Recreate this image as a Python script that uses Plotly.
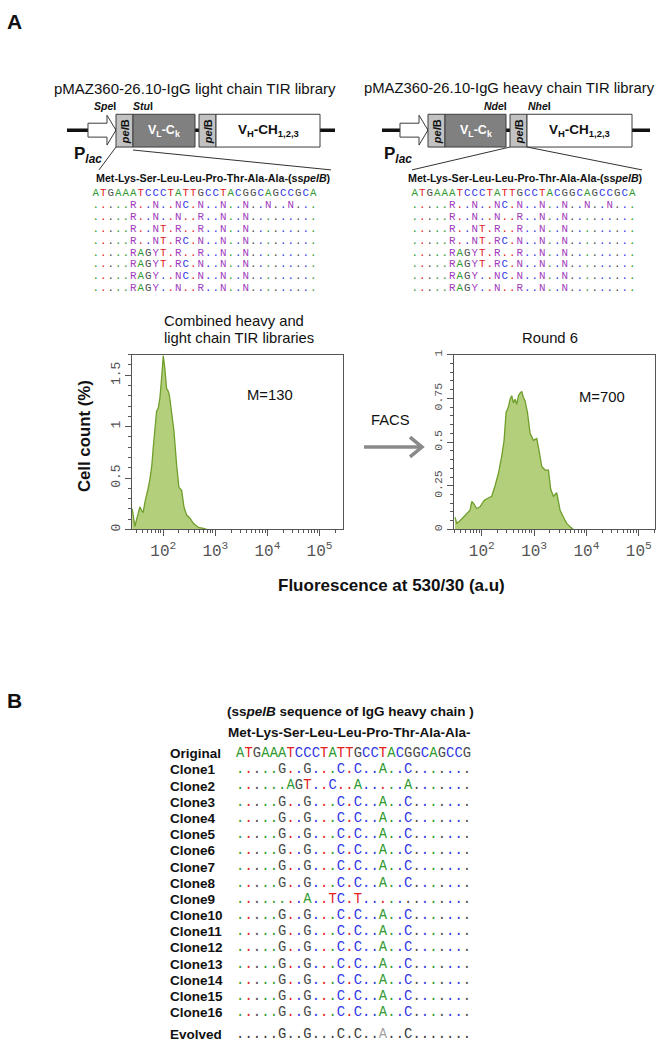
import plotly.graph_objects as go

W, H = 666, 1050

# ---------------- data ----------------
light_lib_fluor = [25.35, 26.92, 28.51, 31.62, 35.56, 38.90, 41.21, 44.67, 47.75, 51.29, 55.46, 60.26,
                   64.27, 69.18, 74.47, 80.17, 86.30, 92.90, 100.0, 107.6, 115.9, 123.0, 130.3, 138.0,
                   144.5, 160.3, 180.3, 200.0, 225.4, 249.5, 281.2, 325.8, 377.6, 471.0, 587.5, 680.8]
light_lib_count = [0.20, 0.08, 0.03, 0.12, 0.22, 0.18, 0.17, 0.27, 0.35, 0.40, 0.49, 0.62,
                   0.80, 0.95, 1.15, 1.18, 1.28, 1.47, 1.69, 1.56, 1.37, 1.35, 1.31, 1.22,
                   1.15, 0.96, 0.63, 0.41, 0.38, 0.22, 0.14, 0.11, 0.06, 0.02, 0.01, 0.0]

round6_fluor = [30.9, 33.3, 38.5, 44.7, 51.7, 59.8, 64.4, 69.3, 80.2, 92.9, 107.6, 115.8, 134.0,
                155.2, 179.7, 208.1, 241.0, 267.1, 291.8, 323.3, 347.7, 374.0, 402.3, 433.2, 466.6,
                502.3, 539.6, 580.8, 625.2, 673.0, 746.4, 839.5, 970.5, 1124.6, 1264.7, 1400.0,
                1621.8, 1879.3, 2079.7, 2338.8, 2710.0, 3140.0, 3638.0, 4207.0, 4875.0, 5649.0]
round6_count = [0.07, 0.035, 0.05, 0.07, 0.09, 0.11, 0.16, 0.15, 0.12, 0.13, 0.16, 0.17, 0.18,
                0.19, 0.25, 0.32, 0.42, 0.51, 0.67, 0.70, 0.745, 0.765, 0.725, 0.745, 0.716,
                0.765, 0.78, 0.79, 0.755, 0.735, 0.67, 0.55, 0.51, 0.52, 0.44, 0.36,
                0.34, 0.34, 0.23, 0.19, 0.21, 0.11, 0.07, 0.035, 0.015, 0.0]

x_tick_vals = [100, 1000, 10000, 100000]
x_tick_text = ["10<sup>2</sup>", "10<sup>3</sup>", "10<sup>4</sup>", "10<sup>5</sup>"]
x_minor_vals = [m * 10 ** d for d in range(1, 6) for m in range(2, 10)]
left_y_ticks = [0, 0.5, 1, 1.5]
left_y_text = ["0", "0.5", "1", "1.5"]
right_y_ticks = [0, 0.25, 0.5, 0.75, 1]
right_y_text = ["0", "0.25", "0.5", "0.75", "1"]

tir_header = "ATGAAATCCCTATTGCCTACGGCAGCCGCA"
tir_rows = [
    ".....R..N..NC.N..N..N..N..N...",
    ".....R..N..N..R..N..N.........",
    ".....R..NT.R..R..N..N.........",
    ".....R..NT.RC.N..N..N.........",
    ".....RAGYT.R..R..N..N.........",
    ".....RAGYT.RC.N..N..N.........",
    ".....RAGY..NC.N..N..N.........",
    ".....RAGY..N..R..N..N.........",
]

b_header = "ATGAAATCCCTATTGCCTACGGCAGCCG"
clone_names = ["Clone1", "Clone2", "Clone3", "Clone4", "Clone5", "Clone6", "Clone7", "Clone8",
               "Clone9", "Clone10", "Clone11", "Clone12", "Clone13", "Clone14", "Clone15", "Clone16"]
clone_seqs = [
    ".....G..G...C.C..A..C.......",
    "......AGT..C..A.....A.......",
    ".....G..G...C.C..A..C.......",
    ".....G..G...C.C..A..C.......",
    ".....G..G...C.C..A..C.......",
    ".....G..G...C.C..A..C.......",
    ".....G..G...C.C..A..C.......",
    ".....G..G...C.C..A..C.......",
    "........A..TC.T.............",
    ".....G..G...C.C..A..C.......",
    ".....G..G...C.C..A..C.......",
    ".....G..G...C.C..A..C.......",
    ".....G..G...C.C..A..C.......",
    ".....G..G...C.C..A..C.......",
    ".....G..G...C.C..A..C.......",
    ".....G..G...C.C..A..C.......",
]
evolved_seq = ".....G..G...C.C..A..C......."

# ---------------- styling helpers ----------------
SANS = "Liberation Sans, Arial, sans-serif"
MONO = "Liberation Mono, Courier New, monospace"
BASE_COL = {"A": "#2f9a2f", "T": "#e3201b", "G": "#4a4a4a", "C": "#2f36e6"}
AMBIG_COL = "#a03cbd"
GREEN_FILL = "#b3cf7c"
GREEN_LINE = "#6f9e2a"


def fx(x):
    return x / W


def fy(y):
    return 1 - y / H


annotations = []
shapes = []


def text(x, y, s, size=13, color="#111111", family=SANS, xanchor="center",
         yanchor="middle", angle=0, align="center", bold=False):
    font = dict(size=size, color=color, family=family)
    if bold:
        font["weight"] = "bold"
    annotations.append(dict(x=fx(x), y=fy(y), xref="paper", yref="paper", text=s,
                            showarrow=False, xanchor=xanchor, yanchor=yanchor,
                            textangle=angle, align=align, font=font))


def rect(x0, y0, x1, y1, fill, line="#3c3c3c", lw=1):
    shapes.append(dict(type="rect", xref="paper", yref="paper", x0=fx(x0), x1=fx(x1),
                       y0=fy(y1), y1=fy(y0), fillcolor=fill, line=dict(color=line, width=lw)))


def seg(x0, y0, x1, y1, color="#222222", w=1):
    shapes.append(dict(type="line", xref="paper", yref="paper", x0=fx(x0), x1=fx(x1),
                       y0=fy(y0), y1=fy(y1), line=dict(color=color, width=w)))


def poly(pts, fill=None, line="#3c3c3c", w=1, closed=True):
    p = "M " + " L ".join("%.5f,%.5f" % (fx(a), fy(b)) for a, b in pts) + (" Z" if closed else "")
    d = dict(type="path", xref="paper", yref="paper", path=p, line=dict(color=line, width=w))
    if fill:
        d["fillcolor"] = fill
    shapes.append(d)


def char_color(c, ref_base, mono=False):
    if mono:
        return "#a0a0a0" if c == "A" else "#3a3a3a"
    if c == ".":
        return BASE_COL[ref_base]
    if c in BASE_COL:
        return BASE_COL[c]
    return AMBIG_COL


def seq_trace(rows, header, row_pos, xa, ya, size, mono_rows=()):
    xs, ys, ts, cs = [], [], [], []
    for r, row in enumerate(rows):
        for i, c in enumerate(row):
            xs.append(i)
            ys.append(row_pos[r])
            ts.append(c)
            cs.append(char_color(c, header[i], r in mono_rows))
    return go.Scatter(x=xs, y=ys, text=ts, mode="text", textposition="middle center",
                      textfont=dict(family=MONO, size=size, color=cs),
                      xaxis=xa, yaxis=ya, showlegend=False, hoverinfo="skip", cliponaxis=False)


# ---------------- panel A: plasmid diagrams ----------------
text(5, 17, "A", size=21, xanchor="left", bold=True)

BOX_T, BOX_B, LINE_Y = 110, 143, 126


def plasmid(lx0, lx1, ax0, p1, vl, p2, vh):
    seg(lx0, LINE_Y, lx1, LINE_Y, "#111111", 3.5)
    poly([(ax0, 119), (p1[0] - 9, 119), (p1[0] - 9, 111), (p1[0], LINE_Y),
          (p1[0] - 9, 141), (p1[0] - 9, 133), (ax0, 133)], fill="white", line="#3c3c3c", w=1)
    rect(p1[0], BOX_T, p1[1], BOX_B, "#c2c2c2")
    rect(vl[0], BOX_T, vl[1], BOX_B, "#808080")
    rect(p2[0], BOX_T, p2[1], BOX_B, "#c2c2c2")
    rect(vh[0], BOX_T, vh[1], BOX_B, "#ffffff")
    for p in (p1, p2):
        text((p[0] + p[1]) / 2, (BOX_T + BOX_B) / 2 + 1, "<i>pel</i>B", size=11, angle=-90,
             bold=True)
    text((vl[0] + vl[1]) / 2, (BOX_T + BOX_B) / 2, "V<sub>L</sub>-C<sub>k</sub>",
         size=12.5, color="white", bold=True)
    text((vh[0] + vh[1]) / 2, (BOX_T + BOX_B) / 2, "V<sub>H</sub>-CH<sub>1,2,3</sub>",
         size=13.5, bold=True)


plasmid(67, 335, 88, (116, 133), (133, 195), (199, 216), (216, 320))
plasmid(382, 650, 400, (428, 445), (445, 506), (510, 527), (527, 632))

text(195, 84, "pMAZ360-26.10-IgG light chain TIR library", size=15)
text(510, 84, "pMAZ360-26.10-IgG heavy chain TIR library", size=14.8)

text(105, 102, "<i>Spe</i>I", size=10.5, bold=True)
text(143, 102, "<i>Stu</i>I", size=10.5, bold=True)
text(495, 102, "<i>Nde</i>I", size=10.5, bold=True)
text(539, 102, "<i>Nhe</i>I", size=10.5, bold=True)

text(72, 151, "P<sub><i>lac</i></sub>", size=17, xanchor="left", bold=True)
text(382, 151, "P<sub><i>lac</i></sub>", size=17, xanchor="left", bold=True)

# expansion lines
seg(116, BOX_B, 99, 166, "#333333", 1)
seg(133, BOX_B + 3, 331, 166, "#333333", 1)
seg(510, BOX_B, 412, 166, "#333333", 1)
seg(527, BOX_B, 642, 166, "#333333", 1)

text(214, 174, "Met-Lys-Ser-Leu-Leu-Pro-Thr-Ala-Ala-(ss<i>pelB</i>)", size=10.7, bold=True)
text(525, 174, "Met-Lys-Ser-Leu-Leu-Pro-Thr-Ala-Ala-(ss<i>pelB</i>)", size=10.7, bold=True)

# ---------------- panel A: histograms ----------------
text(162, 318, "Combined heavy and", size=14.8, xanchor="left")
text(162, 335, "light chain TIR libraries", size=14.8, xanchor="left")
text(550, 335, "Round 6", size=14.8)
text(270, 393, "M=130", size=14.8)
text(602, 395, "M=700", size=14.8)
text(390, 418, "FACS", size=14.8)
seg(364, 445, 421, 445, "#8a8a8a", 3.5)
poly([(410, 435), (422, 445), (410, 455)], line="#8a8a8a", w=3.5, closed=False)
text(84, 434, "Cell count (%)", size=16.8, angle=-90, bold=True)
text(392, 584, "Fluorescence at 530/30 (a.u)", size=17, bold=True)

fig = go.Figure()
fig.add_trace(go.Scatter(x=light_lib_fluor, y=light_lib_count, mode="lines", fill="tozeroy",
                         fillcolor=GREEN_FILL, line=dict(color=GREEN_LINE, width=1.3),
                         xaxis="x", yaxis="y", showlegend=False, hoverinfo="skip"))
fig.add_trace(go.Scatter(x=round6_fluor, y=round6_count, mode="lines", fill="tozeroy",
                         fillcolor=GREEN_FILL, line=dict(color=GREEN_LINE, width=1.3),
                         xaxis="x2", yaxis="y2", showlegend=False, hoverinfo="skip"))

# ---------------- sequence alignments (text traces) ----------------
TOP_PITCH, TOP_ROW, TOP_Y0 = 7.5, 11.9, 190
top_rows = [tir_header] + tir_rows
top_row_pos = list(range(len(top_rows)))
fig.add_trace(seq_trace(top_rows, tir_header, top_row_pos, "x3", "y3", 10.8))
fig.add_trace(seq_trace(top_rows, tir_header, top_row_pos, "x4", "y4", 10.8))

B_PITCH, B_ROW, B_Y0 = 8.4, 16.3, 753.7
b_rows = [b_header] + clone_seqs + [evolved_seq]
b_row_pos = list(range(len(b_rows) - 1)) + [len(b_rows) - 1 + 0.35]
fig.add_trace(seq_trace(b_rows, b_header, b_row_pos, "x5", "y5", 13.8,
                        mono_rows=(len(b_rows) - 1,)))

hidden = dict(visible=False, showgrid=False, zeroline=False, fixedrange=True)


def block_axes(x0, pitch, ncol, y0, rowh, nrow_span):
    xd = [fx(x0), fx(x0 + pitch * ncol)]
    yd = [fy(y0 - rowh / 2 + rowh * nrow_span), fy(y0 - rowh / 2)]
    return (dict(domain=xd, range=[-0.5, ncol - 0.5], **hidden),
            dict(domain=yd, range=[nrow_span - 0.5, -0.5], **hidden))


x3, y3 = block_axes(92, TOP_PITCH, len(tir_header), TOP_Y0, TOP_ROW, len(top_rows))
x4, y4 = block_axes(411, TOP_PITCH, len(tir_header), TOP_Y0, TOP_ROW, len(top_rows))
x5, y5 = block_axes(236, B_PITCH, len(b_header), B_Y0, B_ROW, 18)
x3["anchor"], y3["anchor"] = "y3", "x3"
x4["anchor"], y4["anchor"] = "y4", "x4"
x5["anchor"], y5["anchor"] = "y5", "x5"

tickfont_x = dict(family=MONO, size=16, color="#555555")
common_x = dict(type="log", showline=True, mirror=True, linecolor="#555555", linewidth=1,
                ticks="outside", ticklen=6, tickcolor="#555555", tickvals=x_tick_vals,
                ticktext=x_tick_text, tickfont=tickfont_x, showgrid=False, zeroline=False,
                minor=dict(ticks="outside", ticklen=3, tickcolor="#555555", tickvals=x_minor_vals,
                           showgrid=False))
common_y = dict(showline=True, mirror=True, linecolor="#555555", linewidth=1, ticks="outside",
                ticklen=6, tickcolor="#555555", tickangle=-90,
                showgrid=False, zeroline=False)

fig.update_layout(
    xaxis=dict(domain=[fx(132), fx(343)], range=[1.40, 5.45], anchor="y", **common_x),
    yaxis=dict(domain=[fy(528), fy(352)], range=[0, 1.7], anchor="x", tickvals=left_y_ticks,
               ticktext=left_y_text, tickfont=dict(family=MONO, size=13, color="#555555"),
               minor=dict(ticks="outside", ticklen=3, tickcolor="#555555", dtick=0.1,
                          showgrid=False), **common_y),
    xaxis2=dict(domain=[fx(454), fx(655)], range=[1.47, 5.31], anchor="y2", **common_x),
    yaxis2=dict(domain=[fy(528), fy(352)], range=[0, 1.0], anchor="x2", tickvals=right_y_ticks,
                ticktext=right_y_text, tickfont=dict(family=MONO, size=11.5, color="#555555"),
                minor=dict(ticks="outside", ticklen=3, tickcolor="#555555", dtick=0.05,
                           showgrid=False), **common_y),
    xaxis3=x3, yaxis3=y3, xaxis4=x4, yaxis4=y4, xaxis5=x5, yaxis5=y5,
)

# ---------------- panel B ----------------
text(5, 700, "B", size=21, xanchor="left", bold=True)
text(350, 711, "(ss<i>pelB</i> sequence of IgG heavy chain )", size=13.5, bold=True)
text(349, 732, "Met-Lys-Ser-Leu-Leu-Pro-Thr-Ala-Ala-", size=13.5, bold=True)

LBL_X = 168
row_labels = ["Original"] + clone_names + ["Evolved"]
for lbl, pos in zip(row_labels, b_row_pos):
    text(LBL_X, B_Y0 + B_ROW * pos, lbl, size=13.5, xanchor="left", bold=True)

fig.update_layout(width=W, height=H, margin=dict(l=0, r=0, t=0, b=0),
                  paper_bgcolor="white", plot_bgcolor="white",
                  annotations=annotations, shapes=shapes)

fig.write_html(
    "out.html",
    config={"displayModeBar": False, "staticPlot": True},
    post_script=("document.body.style.margin='0';document.body.style.padding='0';"
                 "document.documentElement.style.overflow='hidden';"
                 "document.body.style.overflow='hidden';"),
)
